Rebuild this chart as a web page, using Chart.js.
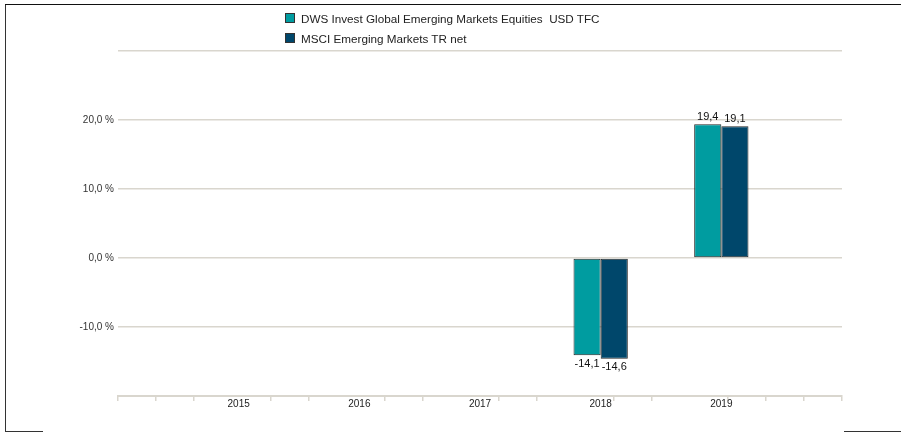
<!DOCTYPE html>
<html>
<head>
<meta charset="utf-8">
<script src="https://cdn.jsdelivr.net/npm/chart.js@4/dist/chart.umd.min.js"></script>
<style>
    body { margin: 0; background: #fff; font-family: "Liberation Sans", Arial, sans-serif; }
    #wrap { position: relative; width: 901px; height: 433px; overflow: hidden; }
    #chart-perf { position: absolute; left: 0; top: 0; }
    .frame { position: absolute; background: #333; }
    #legend { position: absolute; left: 285px; top: 8px; font-size: 11.7px; color: #222; }
    .legend-item { display: flex; align-items: center; height: 20px; white-space: pre; }
    .legend-box { width: 8px; height: 8px; border: 1px solid #333; margin-right: 6px; }
</style>
</head>
<body>
<div id="wrap">
    <canvas id="chart-perf" width="901" height="433"></canvas>
    <div id="legend"></div>
    <div class="frame" style="left:5px; top:4px; width:1px; height:428px;"></div>
    <div class="frame" style="left:5px; top:4px; width:896px; height:1px; background:#111;"></div>
    <div class="frame" style="left:5px; top:431px; width:38px; height:1px;"></div>
    <div class="frame" style="left:844px; top:431px; width:57px; height:1px;"></div>
</div>
<script>
// Calendar-year performance, blank slots at both ends of the axis
const YEARS = ['', '2015', '2016', '2017', '2018', '2019', ''];
const FUND_VALUES = [null, null, null, null, -14.1, 19.4, null];
const INDEX_VALUES = [null, null, null, null, -14.6, 19.1, null];

const SERIES_NAMES = ['DWS Invest Global Emerging Markets Equities  USD TFC', 'MSCI Emerging Markets TR net'];
const SERIES_COLORS = ['#009ca0', '#00476b'];

const Y_LABELED = [-10, 0, 10, 20];

const GRID_COLOR = '#d9d6ce';
const FONT = '"Liberation Sans", Arial, sans-serif';

function fmt(v) {
    return v.toFixed(1).replace('.', ',');
}

// value labels above / below each bar
const barLabels = {
    id: 'barLabels',
    afterDatasetsDraw(chart) {
        const ctx = chart.ctx;
        ctx.save();
        ctx.font = '11px ' + FONT;
        ctx.fillStyle = '#111';
        ctx.textAlign = 'center';
        chart.data.datasets.forEach((ds, i) => {
            chart.getDatasetMeta(i).data.forEach((bar, j) => {
                const v = ds.data[j];
                if (v === null) return;
                if (v >= 0) {
                    ctx.textBaseline = 'bottom';
                    ctx.fillText(fmt(v), bar.x, bar.y - 2);
                } else {
                    ctx.textBaseline = 'top';
                    ctx.fillText(fmt(v), bar.x, bar.y + 3);
                }
            });
        });
        ctx.restore();
    },
};

const legendEl = document.getElementById('legend');
SERIES_NAMES.forEach((name, i) => {
    const item = document.createElement('div');
    item.className = 'legend-item';
    item.innerHTML = `<span class="legend-box" style="background:${SERIES_COLORS[i]}"></span>`;
    item.appendChild(document.createTextNode(name));
    legendEl.appendChild(item);
});

new Chart(document.getElementById('chart-perf'), {
    type: 'bar',
    data: {
        labels: YEARS,
        datasets: [FUND_VALUES, INDEX_VALUES].map((vals, i) => ({
            label: SERIES_NAMES[i],
            data: vals,
            backgroundColor: SERIES_COLORS[i],
            borderColor: '#262626',
            borderWidth: 1,
            borderSkipped: false,
            categoryPercentage: 0.45,
            barPercentage: 1,
        })),
    },
    options: {
        responsive: false,
        animation: false,
        layout: { padding: { left: 0, top: 51, right: 59, bottom: 0 } },
        plugins: {
            legend: { display: false },
            tooltip: { enabled: false },
        },
        scales: {
            x: {
                type: 'category',
                position: 'bottom',
                weight: 1,
                offset: false,
                grid: { display: false, drawTicks: false },
                border: { display: false },
                ticks: {
                    color: '#222',
                    font: { family: FONT, size: 10 },
                    maxRotation: 0,
                    autoSkip: false,
                    padding: 2,
                },
                afterFit: s => { s.height = 37; },
            },
            // minor tick marks along the base line, three per year
            xm: {
                type: 'linear',
                position: 'bottom',
                weight: 0,
                min: 0,
                max: 18,
                ticks: { display: false, stepSize: 1, autoSkip: false },
                grid: {
                    drawOnChartArea: false,
                    drawTicks: true,
                    tickLength: 5,
                    color: c => {
                        const v = c.tick ? c.tick.value : 0;
                        return (v % 3 === 0 && v !== 0 && v !== 18) ? 'rgba(0,0,0,0)' : GRID_COLOR;
                    },
                    lineWidth: 1.5,
                },
                border: { display: true, color: GRID_COLOR, width: 2 },
                afterFit: s => { s.height = 0; },
            },
            y: {
                min: -20,
                max: 30,
                ticks: {
                    stepSize: 10,
                    color: '#333',
                    font: { family: FONT, size: 10 },
                    padding: 4,
                    callback: v => Y_LABELED.includes(v) ? fmt(v) + ' %' : '',
                },
                grid: { color: GRID_COLOR, lineWidth: 1.5, drawTicks: false },
                border: { display: false },
                afterFit: s => { s.width = 118; },
            },
        },
    },
    plugins: [barLabels],
});
</script>
</body>
</html>
